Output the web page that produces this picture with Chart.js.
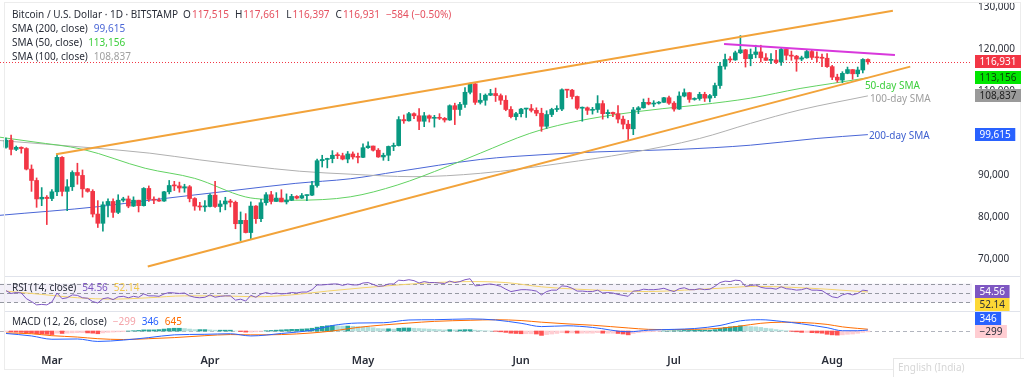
<!DOCTYPE html>
<html>
<head>
<meta charset="utf-8">
<title>Bitcoin / U.S. Dollar - 1D</title>
<script src="https://cdn.jsdelivr.net/npm/chart.js@4.4.1/dist/chart.umd.min.js"></script>
<style>
    html, body { margin: 0; padding: 0; background: #ffffff; }
    #wrap { position: relative; width: 1024px; height: 377px; }
</style>
</head>
<body>
<div id="wrap"><canvas id="btcChart" width="1024" height="377"></canvas></div>
<script>
// days are counted from Feb 20 (day 0) to Aug 8 (day 169), prices in thousands of USD
const monthLabels = ['Mar', 'Apr', 'May', 'Jun', 'Jul', 'Aug'];
const monthStarts = [9, 40, 70, 101, 131, 162];
const priceTicks = [70, 80, 90, 100, 110, 120, 130];

const opens = [
    96.6, 98.3, 96.1, 96.6, 96.3, 91.4, 88.7, 84.3, 84.7, 84.4,
    86.0, 94.2, 86.1, 87.2, 90.6, 89.9, 86.7, 86.1, 80.7, 78.5,
    82.9, 83.7, 81.1, 84.0, 84.3, 82.6, 84.0, 82.7, 86.8, 84.2,
    84.0, 83.8, 86.0, 87.5, 87.4, 86.9, 87.2, 84.4, 82.6, 82.4,
    82.5, 85.2, 82.5, 83.1, 83.8, 83.5, 78.4, 79.2, 76.3, 82.6,
    79.6, 83.4, 85.3, 83.7, 84.5, 83.6, 84.0, 84.9, 84.5, 85.1,
    85.2, 87.5, 93.4, 93.7, 93.9, 94.7, 94.6, 93.8, 95.0, 94.3,
    94.2, 96.5, 96.9, 95.9, 94.3, 94.7, 96.8, 97.0, 103.2, 102.9,
    104.6, 104.1, 102.8, 104.1, 103.5, 103.7, 103.5, 103.1, 106.5, 105.6,
    106.8, 109.7, 111.7, 107.3, 107.8, 109.0, 109.4, 108.9, 107.8, 105.6,
    103.9, 104.6, 105.7, 105.8, 105.4, 104.7, 101.6, 104.4, 105.6, 105.7,
    110.3, 110.2, 108.7, 105.9, 106.0, 105.4, 105.6, 107.0, 104.6, 104.9,
    104.6, 103.3, 102.1, 101.0, 105.5, 106.0, 107.3, 106.9, 107.1, 107.3,
    108.4, 107.1, 105.7, 108.8, 109.6, 108.0, 108.2, 109.2, 108.3, 108.9,
    111.3, 115.9, 117.5, 117.4, 119.1, 119.8, 117.7, 118.7, 119.3, 117.9,
    117.3, 117.4, 116.9, 119.9, 118.5, 118.3, 117.6, 117.9, 119.4, 118.0,
    117.9, 117.8, 115.8, 113.3, 112.6, 114.2, 115.1, 114.1, 115.0, 117.515
];
const highs = [
    98.8, 99.5, 96.9, 96.7, 96.5, 92.4, 89.3, 87.0, 85.1, 86.5,
    95.0, 94.4, 88.9, 91.0, 92.8, 91.2, 86.8, 86.5, 83.9, 83.6,
    84.3, 84.3, 85.3, 84.7, 85.0, 84.8, 84.0, 87.0, 87.4, 84.8,
    84.5, 86.1, 88.7, 88.5, 88.3, 87.8, 87.5, 84.6, 83.5, 83.9,
    85.5, 88.5, 83.9, 84.7, 84.2, 83.8, 81.2, 80.8, 83.6, 82.7,
    84.2, 85.8, 86.1, 85.8, 86.5, 85.5, 85.4, 85.1, 85.6, 85.3,
    88.5, 93.8, 94.7, 94.0, 95.8, 95.3, 95.2, 95.6, 95.5, 95.2,
    97.4, 97.9, 96.9, 96.3, 95.2, 96.9, 97.6, 103.9, 104.3, 104.9,
    104.8, 105.8, 104.9, 104.3, 104.2, 104.6, 103.7, 106.7, 107.1, 107.3,
    110.8, 111.9, 111.8, 109.4, 109.3, 110.4, 110.7, 109.3, 108.9, 106.3,
    104.9, 105.9, 105.9, 106.8, 106.0, 105.9, 105.3, 105.9, 106.5, 110.5,
    110.4, 110.4, 108.8, 106.2, 106.2, 106.1, 108.9, 107.7, 105.5, 105.0,
    106.5, 104.0, 103.0, 106.1, 106.3, 108.1, 108.3, 107.7, 107.5, 108.5,
    108.8, 107.5, 109.8, 110.5, 109.7, 108.4, 109.7, 109.7, 109.2, 111.9,
    116.8, 118.8, 118.2, 119.5, 123.2, 119.9, 120.0, 120.9, 120.9, 118.9,
    118.9, 119.7, 120.2, 120.0, 119.5, 118.5, 118.3, 119.8, 119.8, 119.3,
    118.8, 118.9, 116.1, 114.0, 114.6, 115.7, 115.1, 115.7, 117.7, 117.661
];
const lows = [
    96.4, 94.8, 95.8, 95.2, 91.2, 86.1, 82.3, 82.7, 78.2, 83.9,
    85.1, 85.0, 81.5, 86.3, 87.8, 84.7, 85.9, 80.0, 77.5, 76.6,
    80.0, 79.9, 80.8, 83.6, 82.2, 82.5, 81.2, 82.6, 83.7, 83.2,
    83.7, 83.7, 85.5, 86.3, 85.9, 85.9, 83.6, 81.6, 81.6, 81.3,
    82.4, 82.3, 81.2, 81.7, 82.4, 77.2, 74.4, 76.2, 74.6, 78.5,
    78.9, 82.8, 83.1, 83.7, 83.6, 83.1, 83.9, 84.3, 84.4, 83.9,
    85.1, 87.1, 91.9, 91.7, 92.9, 93.9, 93.6, 92.9, 93.8, 92.9,
    94.1, 96.3, 95.7, 94.2, 93.5, 93.4, 95.8, 96.9, 102.3, 102.8,
    103.4, 100.8, 101.5, 102.6, 101.4, 103.2, 102.6, 103.0, 102.0, 104.2,
    106.1, 109.3, 106.8, 106.9, 106.6, 108.9, 107.5, 106.8, 105.3, 103.6,
    103.1, 103.8, 103.7, 105.0, 104.1, 100.4, 101.1, 103.9, 105.1, 105.3,
    108.4, 108.1, 105.6, 102.8, 104.4, 104.5, 104.9, 103.3, 103.6, 103.9,
    102.4, 101.0, 98.2, 99.6, 104.6, 105.9, 106.7, 106.3, 106.9, 107.3,
    106.8, 105.2, 105.6, 108.6, 107.3, 107.8, 107.8, 107.5, 107.4, 108.4,
    110.6, 115.2, 116.9, 117.3, 118.9, 115.7, 116.0, 117.9, 116.9, 117.3,
    116.5, 116.5, 116.1, 117.4, 117.3, 114.7, 117.2, 117.8, 117.5, 116.9,
    115.8, 115.6, 112.7, 112.1, 112.0, 114.1, 112.8, 113.4, 114.3, 116.397
];
const closes = [
    98.3, 96.1, 96.6, 96.3, 91.4, 88.7, 84.3, 84.7, 84.4, 86.0,
    94.2, 86.1, 87.2, 90.6, 89.9, 86.7, 86.1, 80.7, 78.5, 82.9,
    83.7, 81.1, 84.0, 84.3, 82.6, 84.0, 82.7, 86.8, 84.2, 84.0,
    83.8, 86.0, 87.5, 87.4, 86.9, 87.2, 84.4, 82.6, 82.4, 82.5,
    85.2, 82.5, 83.1, 83.8, 83.5, 78.4, 79.2, 76.3, 82.6, 79.6,
    83.4, 85.3, 83.7, 84.5, 83.6, 84.0, 84.9, 84.5, 85.1, 85.2,
    87.5, 93.4, 93.7, 93.9, 94.7, 94.6, 93.8, 95.0, 94.3, 94.2,
    96.5, 96.9, 95.9, 94.3, 94.7, 96.8, 97.0, 103.2, 102.9, 104.6,
    104.1, 102.8, 104.1, 103.5, 103.7, 103.5, 103.1, 106.5, 105.6, 106.8,
    109.7, 111.7, 107.3, 107.8, 109.0, 109.4, 108.9, 107.8, 105.6, 103.9,
    104.6, 105.7, 105.8, 105.4, 104.7, 101.6, 104.4, 105.6, 105.7, 110.3,
    110.2, 108.7, 105.9, 106.0, 105.4, 105.6, 107.0, 104.6, 104.9, 104.6,
    103.3, 102.1, 101.0, 105.5, 106.0, 107.3, 106.9, 107.1, 107.3, 108.4,
    107.1, 105.7, 108.8, 109.6, 108.0, 108.2, 109.2, 108.3, 108.9, 111.3,
    115.9, 117.5, 117.4, 119.1, 119.8, 117.7, 118.7, 119.3, 117.9, 117.3,
    117.4, 116.9, 119.9, 118.5, 118.3, 117.6, 117.9, 119.4, 118.0, 117.9,
    117.8, 115.8, 113.3, 112.6, 114.2, 115.1, 114.1, 115.0, 117.515, 116.931
];

// moving averages at a few days each
const sma50Days = [-1.2, 5.3, 15.1, 27.3, 37, 46.9, 50.8, 56.7, 67.5, 76.7, 86.5, 93, 102.7, 110, 119, 128.8, 136, 146, 155.7, 162, 169];
const sma50 = [99.0, 97.9, 96.1, 91.6, 89.2, 84.8, 84.2, 84.0, 84.8, 87.6, 92.0, 95.2, 99.9, 102.3, 104.3, 105.8, 106.7, 108.3, 110.6, 111.8, 113.156];
const sma100Days = [-1.2, 16.5, 28.2, 38, 57.6, 67.5, 79.8, 93, 109, 122, 136, 146, 155.7, 169];
const sma100 = [98.2, 96.5, 95.2, 93.6, 90.9, 90.2, 89.6, 90.4, 92.8, 95.2, 98.7, 102.3, 105.5, 108.837];
const sma200Days = [-1.2, 18.4, 28.2, 44.5, 56.7, 67.5, 76.7, 93, 99.4, 115.9, 132, 146, 159, 169];
const sma200 = [80.4, 82.5, 84.0, 86.3, 88.0, 89.1, 90.8, 93.7, 94.4, 95.5, 96.1, 97.1, 98.7, 99.615];

// drawn trend lines: [day, price] end points
const upperChannel = [[9.8, 94.93], [173.9, 129.1]];
const lowerChannel = [[27.8, 68.2], [177.3, 115.8]];
const resistance = [[140.8, 121.2], [174.3, 118.6]];

// RSI (14) daily and its moving average
const rsi = [
    55, 49, 51, 50, 38, 32, 25, 26, 25, 31,
    50, 38, 40, 46, 45, 40, 39, 32, 29, 38,
    40, 36, 42, 43, 40, 43, 41, 48, 44, 44,
    43, 48, 51, 50, 49, 50, 44, 41, 40, 41,
    46, 41, 43, 44, 44, 35, 37, 33, 45, 41,
    48, 51, 48, 50, 48, 49, 51, 50, 52, 52,
    57, 67, 67, 68, 69, 69, 66, 69, 67, 67,
    71, 72, 68, 64, 65, 69, 69, 77, 76, 78,
    76, 71, 74, 72, 72, 71, 70, 75, 72, 74,
    78, 80, 65, 66, 68, 69, 67, 64, 58, 53,
    55, 57, 57, 56, 54, 46, 53, 56, 56, 65,
    64, 60, 54, 54, 53, 53, 56, 50, 51, 50,
    47, 45, 43, 54, 55, 58, 57, 57, 58, 60,
    56, 53, 59, 61, 57, 57, 59, 57, 58, 64,
    72, 75, 74, 77, 76, 64, 66, 67, 62, 60,
    60, 58, 63, 59, 58, 56, 57, 60, 56, 56,
    55, 48, 42, 40, 46, 49, 46, 49, 56, 54.56
];
const rsiMaDays = [0, 7, 14, 21, 28, 35, 42, 49, 56, 63, 70, 77, 84, 91, 98, 105, 112, 119, 126, 133, 140, 147, 154, 161, 169];
const rsiMa = [54, 47, 40, 37, 40, 44, 44, 42, 46, 54, 61, 67, 72, 74, 72, 63, 58, 55, 53, 56, 60, 64, 62, 58, 52.14];
const rsiLevels = [70, 50, 30];

// MACD (12, 26) in thousands
const macdDays = [0, 5, 9, 14, 18, 23, 28, 33, 39, 44, 48, 54, 60, 64, 69, 74, 79, 84, 91, 96, 101, 105, 110, 115, 122, 126, 131, 135, 140, 144, 148, 152, 156, 161, 164, 167, 169];
const macdLine = [-0.9, -1.8, -3.0, -2.9, -3.8, -3.3, -2.4, -1.4, -1.2, -1.0, -1.8, -0.9, 0.3, 2.0, 2.9, 3.0, 4.0, 4.1, 4.4, 4.0, 2.8, 1.6, 1.9, 1.3, -0.3, 0.3, 0.6, 0.9, 2.0, 3.7, 4.1, 3.5, 2.6, 1.2, 0.1, 0.1, 0.346];
const signalLine = [-0.7, -1.0, -1.7, -2.2, -2.8, -3.1, -2.8, -2.4, -1.7, -1.3, -1.4, -1.3, -0.7, 0.0, 1.3, 2.2, 2.9, 3.5, 3.9, 4.1, 3.8, 3.2, 2.6, 2.1, 1.1, 0.6, 0.5, 0.6, 1.0, 1.8, 2.8, 3.2, 3.1, 2.4, 1.5, 0.95, 0.645];
const macdHist = [
    -0.2, -0.3, -0.4, -0.5, -0.6, -0.8, -1.0, -1.1, -1.2, -1.3,
    -0.8, -0.9, -0.8, -0.7, -0.6, -0.6, -0.7, -0.8, -1.0, -0.7,
    -0.5, -0.4, -0.3, -0.2, 0.0, 0.1, 0.2, 0.4, 0.4, 0.4,
    0.5, 0.7, 0.9, 1.0, 1.0, 0.9, 0.7, 0.5, 0.5, 0.5,
    0.4, 0.3, 0.3, 0.3, 0.3, 0.0, -0.2, -0.4, -0.4, -0.3,
    -0.1, 0.1, 0.2, 0.3, 0.4, 0.5, 0.6, 0.6, 0.7, 0.8,
    1.0, 1.4, 1.7, 1.9, 2.0, 1.9, 1.8, 1.8, 1.7, 1.6,
    1.5, 1.4, 1.2, 0.9, 0.8, 0.8, 0.7, 1.0, 1.1, 1.1,
    1.0, 0.9, 0.8, 0.7, 0.6, 0.5, 0.4, 0.5, 0.4, 0.4,
    0.5, 0.5, 0.3, 0.2, 0.1, 0.0, -0.1, -0.3, -0.5, -0.8,
    -0.9, -1.0, -1.0, -1.0, -1.1, -1.6, -1.3, -1.1, -0.9, -0.6,
    -0.7, -0.7, -0.8, -0.8, -0.8, -0.8, -0.6, -0.8, -0.8, -0.8,
    -0.9, -1.1, -1.4, -0.9, -0.6, -0.4, -0.3, -0.2, -0.1, 0.0,
    0.0, 0.1, 0.1, 0.2, 0.2, 0.3, 0.3, 0.3, 0.3, 0.5,
    1.0, 1.3, 1.5, 1.7, 1.9, 1.7, 1.6, 1.5, 1.3, 1.0,
    0.8, 0.5, 0.3, 0.1, -0.1, -0.3, -0.5, -0.5, -0.6, -0.7,
    -0.8, -1.2, -1.4, -1.5, -1.4, -1.2, -1.1, -0.85, -0.5, -0.299
];

const FONT = "'Noto Sans', 'Liberation Sans', sans-serif";
const UP = '#089981';
const DOWN = '#F23645';
const TEXT = '#2a2e39';

Chart.defaults.font.family = FONT;
Chart.defaults.font.size = 10;

function pts(days, vals) {
    return days.map((d, i) => ({ x: d, y: vals[i] }));
}
function seg(pair) {
    return pair.map(p => ({ x: p[0], y: p[1] }));
}
function fmtPrice(v) {
    return Math.round(v * 1000).toLocaleString('en-US');
}
function candleColor(c) {
    const i = c.dataIndex;
    return closes[i] >= opens[i] ? UP : DOWN;
}
function histColor(c) {
    const i = c.dataIndex;
    const v = macdHist[i];
    const p = i > 0 ? macdHist[i - 1] : v;
    if (v >= 0) return v >= p ? '#26A69A' : '#B2DFDB';
    return v < p ? '#FF5252' : '#FFCDD2';
}
// keep the panes flush with the canvas edges
function noPad(sc) {
    sc.paddingTop = 0;
    sc.paddingBottom = 0;
    sc.paddingLeft = 0;
    sc.paddingRight = 0;
}

function drawRow(ctx, y, x, parts) {
    parts.forEach(p => {
        ctx.fillStyle = p[1];
        ctx.fillText(p[0], x, y);
        x += ctx.measureText(p[0]).width + (p[2] || 0);
    });
}
function priceBox(ctx, y, text, bg, fg) {
    const w = ctx.measureText(text).width + 9;
    ctx.fillStyle = bg;
    ctx.fillRect(975, Math.round(y - 6.5), w, 13);
    ctx.fillStyle = fg;
    ctx.fillText(text, 979.5, y + 0.5);
}

const tvOverlay = {
    id: 'tvOverlay',
    beforeDatasetsDraw(chart) {
        const { ctx, chartArea: a, scales: s } = chart;
        ctx.save();
        const r70 = s.yRsi.getPixelForValue(rsiLevels[0]);
        const r30 = s.yRsi.getPixelForValue(rsiLevels[2]);
        ctx.fillStyle = 'rgba(126, 87, 194, 0.09)';
        ctx.fillRect(a.left, r70, a.right - a.left, r30 - r70);
        ctx.strokeStyle = '#9598a1';
        ctx.lineWidth = 1;
        ctx.setLineDash([4, 3]);
        rsiLevels.forEach(v => {
            const y = Math.round(s.yRsi.getPixelForValue(v)) + 0.5;
            ctx.beginPath(); ctx.moveTo(a.left, y); ctx.lineTo(a.right, y); ctx.stroke();
        });
        const z = Math.round(s.yMacd.getPixelForValue(0)) + 0.5;
        ctx.strokeStyle = '#b2b5be';
        ctx.beginPath(); ctx.moveTo(a.left, z); ctx.lineTo(a.right, z); ctx.stroke();

        const last = closes[closes.length - 1];
        const ly = Math.round(s.y.getPixelForValue(last)) + 0.5;
        ctx.strokeStyle = DOWN;
        ctx.setLineDash([1, 2]);
        ctx.beginPath(); ctx.moveTo(a.left, ly); ctx.lineTo(a.right, ly); ctx.stroke();
        ctx.restore();
    },
    afterDraw(chart) {
        const { ctx, scales: s } = chart;
        const n = closes.length - 1;
        ctx.save();

        // panel separators and frame
        ctx.strokeStyle = '#e0e3eb';
        ctx.lineWidth = 1;
        [s.yRsi.top, s.yMacd.top].forEach(t => {
            const y = Math.round(t) + 0.5;
            ctx.beginPath(); ctx.moveTo(4, y); ctx.lineTo(1020, y); ctx.stroke();
        });
        ctx.strokeStyle = '#ececec';
        ctx.strokeRect(4.5, 2.5, 1016, 367);

        // header legend
        ctx.font = '10px ' + FONT;
        ctx.textBaseline = 'middle';
        const chg = closes[n] - closes[n - 1];
        const pct = chg / closes[n - 1] * 100;
        const sign = chg < 0 ? '\u2212' : '+';
        const red = '#e5505f';
        drawRow(ctx, 15, 12, [
            ['Bitcoin / U.S. Dollar \u00b7 1D \u00b7 BITSTAMP', TEXT, 5],
            ['O', TEXT, 1], [fmtPrice(opens[n]), red, 6],
            ['H', TEXT, 1], [fmtPrice(highs[n]), red, 6],
            ['L', TEXT, 1], [fmtPrice(lows[n]), red, 6],
            ['C', TEXT, 1], [fmtPrice(closes[n]), red, 6],
            [sign + Math.round(Math.abs(chg) * 1000) + ' (' + sign + Math.abs(pct).toFixed(2) + '%)', red, 0]
        ]);
        drawRow(ctx, 29, 12, [['SMA (200, close)', TEXT, 6], [fmtPrice(sma200[sma200.length - 1]), '#4a66d6', 0]]);
        drawRow(ctx, 43, 12, [['SMA (50, close)', TEXT, 6], [fmtPrice(sma50[sma50.length - 1]), '#3ccf3c', 0]]);
        drawRow(ctx, 57, 12, [['SMA (100, close)', TEXT, 6], [fmtPrice(sma100[sma100.length - 1]), '#a0a0a0', 0]]);

        const rLast = rsi[rsi.length - 1];
        const rmLast = rsiMa[rsiMa.length - 1];
        drawRow(ctx, s.yRsi.top + 12, 12, [
            ['RSI (14, close)', TEXT, 6], [rLast.toFixed(2), '#7e57c2', 6], [rmLast.toFixed(2), '#f2c94c', 0]
        ]);
        const hLast = macdHist[macdHist.length - 1];
        const mLast = macdLine[macdLine.length - 1];
        const sLast = signalLine[signalLine.length - 1];
        drawRow(ctx, s.yMacd.top + 11, 12, [
            ['MACD (12, 26, close)', TEXT, 6],
            ['\u2212' + Math.round(Math.abs(hLast) * 1000), '#f4a3a8', 6],
            [String(Math.round(mLast * 1000)), '#2962ff', 6],
            [String(Math.round(sLast * 1000)), '#ff6d00', 0]
        ]);

        // SMA annotations
        const ax = s.x.getPixelForValue(n);
        ctx.fillStyle = '#3ccf3c';
        ctx.fillText('50-day SMA', ax - 3, s.y.getPixelForValue(sma50[sma50.length - 1]) + 8);
        ctx.fillStyle = '#9e9e9e';
        ctx.fillText('100-day SMA', ax + 2, s.y.getPixelForValue(sma100[sma100.length - 1]) + 3);
        ctx.fillStyle = '#3f60cf';
        ctx.fillText('200-day SMA', ax + 1, s.y.getPixelForValue(sma200[sma200.length - 1]) + 1.5);

        // price scale value boxes
        priceBox(ctx, s.y.getPixelForValue(closes[n]), fmtPrice(closes[n]), DOWN, '#ffffff');
        priceBox(ctx, s.y.getPixelForValue(sma50[sma50.length - 1]), fmtPrice(sma50[sma50.length - 1]), '#00e600', '#0b3d0b');
        priceBox(ctx, s.y.getPixelForValue(sma100[sma100.length - 1]), fmtPrice(sma100[sma100.length - 1]), '#9a9a9a', '#1e1e1e');
        priceBox(ctx, s.y.getPixelForValue(sma200[sma200.length - 1]), fmtPrice(sma200[sma200.length - 1]), '#2962ff', '#ffffff');

        const ry = s.yRsi.getPixelForValue(rLast) + 1;
        priceBox(ctx, ry, rLast.toFixed(2), '#7e57c2', '#ffffff');
        priceBox(ctx, ry + 13, rmLast.toFixed(2), '#fdd835', '#2a2e39');
        const hy = s.yMacd.getPixelForValue(hLast);
        priceBox(ctx, hy, '\u2212' + Math.round(Math.abs(hLast) * 1000), '#ffcdd2', '#2a2e39');
        priceBox(ctx, hy - 13, String(Math.round(mLast * 1000)), '#2962ff', '#ffffff');

        // language tooltip in the corner of the screenshot
        ctx.fillStyle = '#ffffff';
        ctx.fillRect(893, 358, 131, 19);
        ctx.strokeStyle = '#e6e6e6';
        ctx.strokeRect(893.5, 358.5, 131, 19);
        ctx.fillStyle = '#d6d6d6';
        ctx.fillText('English (India)', 898, 368);
        ctx.restore();
    }
};

const xMin = -6 / 5.1;
const xMax = xMin + 972 / 5.1;

new Chart(document.getElementById('btcChart').getContext('2d'), {
    type: 'bar',
    data: {
        datasets: [
            { type: 'line', label: 'Upper channel', data: seg(upperChannel), borderColor: '#f2a33a', borderWidth: 2, pointRadius: 0, yAxisID: 'y', order: 0 },
            { type: 'line', label: 'Lower channel', data: seg(lowerChannel), borderColor: '#f2a33a', borderWidth: 2, pointRadius: 0, yAxisID: 'y', order: 0 },
            { type: 'line', label: 'Resistance', data: seg(resistance), borderColor: '#d838dc', borderWidth: 2, pointRadius: 0, yAxisID: 'y', order: 0 },
            {
                label: 'Bodies', data: opens.map((o, i) => ({ x: i, y: [o, closes[i]] })),
                backgroundColor: candleColor, barThickness: 4, minBarLength: 1, grouped: false, yAxisID: 'y', order: 1
            },
            {
                label: 'Wicks', data: lows.map((l, i) => ({ x: i, y: [l, highs[i]] })),
                backgroundColor: candleColor, barThickness: 1, grouped: false, yAxisID: 'y', order: 2
            },
            { type: 'line', label: 'SMA 50', data: pts(sma50Days, sma50), borderColor: '#62d262', borderWidth: 1, pointRadius: 0, cubicInterpolationMode: 'monotone', yAxisID: 'y', order: 3 },
            { type: 'line', label: 'SMA 100', data: pts(sma100Days, sma100), borderColor: '#b0b0b0', borderWidth: 1, pointRadius: 0, cubicInterpolationMode: 'monotone', yAxisID: 'y', order: 3 },
            { type: 'line', label: 'SMA 200', data: pts(sma200Days, sma200), borderColor: '#4a66d6', borderWidth: 1, pointRadius: 0, cubicInterpolationMode: 'monotone', yAxisID: 'y', order: 3 },
            { type: 'line', label: 'RSI', data: rsi.map((v, i) => ({ x: i, y: v })), borderColor: '#7e57c2', borderWidth: 1, pointRadius: 0, yAxisID: 'yRsi', order: 0 },
            { type: 'line', label: 'RSI MA', data: pts(rsiMaDays, rsiMa), borderColor: '#f5d46a', borderWidth: 1, pointRadius: 0, cubicInterpolationMode: 'monotone', yAxisID: 'yRsi', order: 1 },
            { type: 'line', label: 'MACD', data: pts(macdDays, macdLine), borderColor: '#2962ff', borderWidth: 1, pointRadius: 0, cubicInterpolationMode: 'monotone', yAxisID: 'yMacd', order: 0 },
            { type: 'line', label: 'Signal', data: pts(macdDays, signalLine), borderColor: '#ff6d00', borderWidth: 1, pointRadius: 0, cubicInterpolationMode: 'monotone', yAxisID: 'yMacd', order: 0 },
            {
                label: 'Histogram', data: macdHist.map((v, i) => ({ x: i, y: v })),
                backgroundColor: histColor, barThickness: 4, grouped: false, yAxisID: 'yMacd', order: 2
            }
        ]
    },
    options: {
        responsive: false,
        animation: false,
        devicePixelRatio: 1,
        layout: { padding: 0 },
        plugins: { legend: { display: false }, tooltip: { enabled: false } },
        scales: {
            x: {
                type: 'linear', min: xMin, max: xMax, offset: false,
                grid: { display: false, drawTicks: false }, border: { display: false },
                afterBuildTicks: sc => { sc.ticks = monthStarts.map(v => ({ value: v })); },
                afterFit: sc => { sc.height = 32; noPad(sc); },
                ticks: {
                    autoSkip: false, maxRotation: 0, padding: 9, color: TEXT,
                    font: { size: 11, weight: '600' },
                    callback: v => monthLabels[monthStarts.indexOf(v)]
                }
            },
            y: {
                type: 'linear', position: 'right', stack: 'panes', stackWeight: 276,
                min: 65.952, max: 131.667,
                grid: { display: false, drawTicks: false }, border: { display: false },
                afterBuildTicks: sc => { sc.ticks = priceTicks.map(v => ({ value: v })); },
                afterFit: sc => { sc.width = 52; noPad(sc); },
                ticks: { padding: 6, color: TEXT, font: { size: 10 }, callback: v => fmtPrice(v) }
            },
            yRsi: {
                type: 'linear', position: 'right', stack: 'panes', stackWeight: 35,
                min: 12.1, max: 85.8,
                grid: { display: false, drawTicks: false }, border: { display: false },
                ticks: { display: false },
                afterFit: sc => { sc.width = 52; noPad(sc); }
            },
            yMacd: {
                type: 'linear', position: 'right', stack: 'panes', stackWeight: 34,
                min: -5.09, max: 7.27,
                grid: { display: false, drawTicks: false }, border: { display: false },
                ticks: { display: false },
                afterFit: sc => { sc.width = 52; noPad(sc); }
            }
        }
    },
    plugins: [tvOverlay]
});
</script>
</body>
</html>
